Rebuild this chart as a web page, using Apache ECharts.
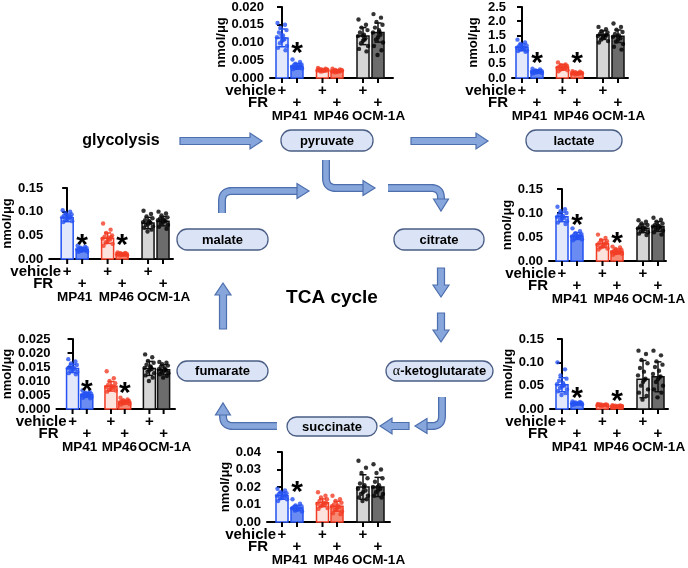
<!DOCTYPE html>
<html><head><meta charset="utf-8">
<script src="https://cdn.jsdelivr.net/npm/echarts@6/dist/echarts.min.js"></script>
<style>html,body{margin:0;padding:0;background:#fff}#chart{width:688px;height:568px}</style>
</head><body><div id="chart"></div>
<script>
// ---------- DATA ----------
const groupNames = ['MP41', 'MP46', 'OCM-1A'];
const rowNames = ['vehicle', 'FR'];
const yAxisName = 'nmol/μg';

// bar order: MP41 vehicle, MP41 FR, MP46 vehicle, MP46 FR, OCM-1A vehicle, OCM-1A FR
const pyruvateTicks = [0, 0.005, 0.010, 0.015, 0.020];
const pyruvateMean = [0.0113, 0.0033, 0.0022, 0.0020, 0.0118, 0.0128];
const pyruvateSD = [0.0025, 0.0008, 0.0003, 0.0003, 0.0024, 0.0027];
const pyruvateStars = [[1, 0.0085]];
const pyruvateDots = [
  [0.0155, 0.0150, 0.0142, 0.0135, 0.0128, 0.0120, 0.0115, 0.0110, 0.0105, 0.0098, 0.0090, 0.0085, 0.0078, 0.0120, 0.0108],
  [0.0052, 0.0045, 0.0040, 0.0038, 0.0036, 0.0034, 0.0032, 0.0031, 0.0030, 0.0028, 0.0027, 0.0025, 0.0035, 0.0029],
  [0.0028, 0.0026, 0.0025, 0.0024, 0.0023, 0.0022, 0.0021, 0.0020, 0.0019, 0.0018, 0.0022, 0.0024],
  [0.0026, 0.0024, 0.0023, 0.0022, 0.0021, 0.0020, 0.0019, 0.0018, 0.0017, 0.0016, 0.0021, 0.0019],
  [0.0165, 0.0150, 0.0142, 0.0135, 0.0128, 0.0122, 0.0118, 0.0112, 0.0105, 0.0098, 0.0090, 0.0082, 0.0075, 0.0120, 0.0108],
  [0.0180, 0.0170, 0.0158, 0.0150, 0.0142, 0.0135, 0.0128, 0.0122, 0.0115, 0.0108, 0.0100, 0.0090, 0.0078, 0.0065, 0.0130]
];

const lactateTicks = [0, 0.5, 1.0, 1.5, 2.0, 2.5];
const lactateMean = [1.08, 0.24, 0.38, 0.17, 1.51, 1.47];
const lactateSD = [0.12, 0.05, 0.10, 0.03, 0.15, 0.22];
const lactateStars = [[1, 0.70], [3, 0.70]];
const lactateDots = [
  [1.35, 1.25, 1.20, 1.15, 1.12, 1.10, 1.07, 1.05, 1.02, 1.00, 0.97, 0.95, 0.92, 1.08, 1.03],
  [0.33, 0.30, 0.27, 0.25, 0.24, 0.23, 0.22, 0.21, 0.20, 0.19, 0.18, 0.16, 0.22, 0.24],
  [0.55, 0.48, 0.45, 0.42, 0.40, 0.38, 0.36, 0.34, 0.32, 0.30, 0.27, 0.24, 0.39],
  [0.24, 0.22, 0.20, 0.19, 0.18, 0.17, 0.16, 0.15, 0.14, 0.13, 0.17, 0.18],
  [1.80, 1.72, 1.65, 1.60, 1.55, 1.50, 1.48, 1.45, 1.40, 1.35, 1.30, 1.25, 1.52, 1.44],
  [1.92, 1.80, 1.70, 1.62, 1.55, 1.50, 1.45, 1.40, 1.35, 1.28, 1.20, 1.10, 1.00, 1.48]
];

const malateTicks = [0, 0.05, 0.10, 0.15];
const malateMean = [0.087, 0.020, 0.044, 0.010, 0.076, 0.080];
const malateSD = [0.008, 0.004, 0.011, 0.002, 0.012, 0.010];
const malateStars = [[1, 0.040], [3, 0.040]];
const malateDots = [
  [0.103, 0.100, 0.097, 0.094, 0.092, 0.090, 0.088, 0.086, 0.084, 0.082, 0.080, 0.078, 0.089, 0.091],
  [0.028, 0.026, 0.024, 0.023, 0.022, 0.021, 0.020, 0.019, 0.018, 0.017, 0.016, 0.015, 0.020, 0.022],
  [0.075, 0.062, 0.055, 0.050, 0.047, 0.045, 0.043, 0.041, 0.038, 0.035, 0.032, 0.028, 0.046],
  [0.014, 0.013, 0.012, 0.011, 0.011, 0.010, 0.010, 0.009, 0.009, 0.008, 0.008, 0.010],
  [0.102, 0.095, 0.090, 0.086, 0.082, 0.080, 0.078, 0.076, 0.074, 0.072, 0.069, 0.066, 0.062, 0.058, 0.079],
  [0.100, 0.096, 0.092, 0.088, 0.085, 0.083, 0.082, 0.080, 0.078, 0.075, 0.072, 0.068, 0.064, 0.084]
];

const citrateTicks = [0, 0.05, 0.10, 0.15];
const citrateMean = [0.092, 0.052, 0.036, 0.020, 0.068, 0.072];
const citrateSD = [0.010, 0.007, 0.008, 0.005, 0.009, 0.010];
const citrateStars = [[1, 0.085], [3, 0.048]];
const citrateDots = [
  [0.113, 0.108, 0.104, 0.100, 0.097, 0.094, 0.092, 0.090, 0.088, 0.086, 0.083, 0.080, 0.077, 0.093],
  [0.068, 0.062, 0.058, 0.056, 0.054, 0.052, 0.051, 0.050, 0.049, 0.047, 0.045, 0.043, 0.053],
  [0.055, 0.048, 0.044, 0.041, 0.038, 0.036, 0.034, 0.032, 0.030, 0.028, 0.026, 0.024, 0.037],
  [0.030, 0.028, 0.025, 0.023, 0.021, 0.020, 0.019, 0.018, 0.017, 0.016, 0.015, 0.013, 0.020],
  [0.085, 0.082, 0.078, 0.075, 0.072, 0.070, 0.068, 0.066, 0.064, 0.062, 0.060, 0.057, 0.054, 0.069],
  [0.090, 0.086, 0.082, 0.078, 0.075, 0.073, 0.072, 0.070, 0.068, 0.066, 0.063, 0.060, 0.055, 0.074]
];

const fumarateTicks = [0, 0.005, 0.010, 0.015, 0.020, 0.025];
const fumarateMean = [0.0145, 0.0051, 0.0081, 0.0025, 0.0145, 0.0140];
const fumarateSD = [0.0015, 0.0008, 0.0017, 0.0006, 0.0025, 0.0018];
const fumarateStars = [[1, 0.0082], [3, 0.0075]];
const fumarateDots = [
  [0.0178, 0.0170, 0.0163, 0.0157, 0.0152, 0.0148, 0.0145, 0.0142, 0.0139, 0.0136, 0.0132, 0.0128, 0.0124, 0.0147],
  [0.0066, 0.0062, 0.0058, 0.0055, 0.0053, 0.0051, 0.0050, 0.0049, 0.0047, 0.0045, 0.0043, 0.0040, 0.0038, 0.0052],
  [0.0135, 0.0110, 0.0100, 0.0092, 0.0086, 0.0082, 0.0079, 0.0076, 0.0073, 0.0070, 0.0066, 0.0062, 0.0080],
  [0.0040, 0.0034, 0.0031, 0.0029, 0.0027, 0.0025, 0.0024, 0.0023, 0.0021, 0.0020, 0.0018, 0.0016, 0.0026],
  [0.0195, 0.0185, 0.0172, 0.0165, 0.0158, 0.0152, 0.0147, 0.0143, 0.0138, 0.0133, 0.0128, 0.0120, 0.0112, 0.0100, 0.0150],
  [0.0168, 0.0165, 0.0160, 0.0155, 0.0150, 0.0146, 0.0142, 0.0139, 0.0136, 0.0132, 0.0128, 0.0124, 0.0118, 0.0112, 0.0141]
];

const akgTicks = [0, 0.05, 0.10, 0.15];
const akgMean = [0.052, 0.012, 0.008, 0.006, 0.064, 0.069];
const akgSD = [0.015, 0.002, 0.0015, 0.001, 0.040, 0.032];
const akgStars = [[1, 0.034], [3, 0.028]];
const akgDots = [
  [0.100, 0.085, 0.072, 0.065, 0.060, 0.056, 0.053, 0.050, 0.048, 0.045, 0.042, 0.038, 0.034, 0.030, 0.052],
  [0.016, 0.015, 0.014, 0.013, 0.013, 0.012, 0.012, 0.011, 0.011, 0.010, 0.010, 0.009, 0.012],
  [0.011, 0.010, 0.0095, 0.009, 0.0085, 0.008, 0.008, 0.0075, 0.007, 0.0065, 0.006, 0.0085],
  [0.008, 0.0075, 0.007, 0.0065, 0.006, 0.006, 0.0055, 0.005, 0.005, 0.0045, 0.0062],
  [0.125, 0.118, 0.105, 0.098, 0.088, 0.080, 0.072, 0.065, 0.058, 0.050, 0.042, 0.035, 0.028, 0.020, 0.062],
  [0.125, 0.115, 0.102, 0.095, 0.090, 0.082, 0.075, 0.070, 0.064, 0.058, 0.050, 0.042, 0.035, 0.025, 0.068]
];

const succinateTicks = [0, 0.01, 0.02, 0.03, 0.04];
const succinateMean = [0.015, 0.008, 0.011, 0.009, 0.020, 0.020];
const succinateSD = [0.002, 0.0015, 0.0022, 0.0028, 0.007, 0.0055];
const succinateStars = [[1, 0.020]];
const succinateDots = [
  [0.019, 0.018, 0.017, 0.0165, 0.016, 0.0155, 0.015, 0.0145, 0.014, 0.0135, 0.013, 0.012, 0.0152],
  [0.013, 0.0105, 0.0095, 0.009, 0.0085, 0.008, 0.0078, 0.0075, 0.007, 0.0065, 0.006, 0.0082],
  [0.017, 0.015, 0.014, 0.013, 0.012, 0.011, 0.0105, 0.010, 0.0095, 0.009, 0.008, 0.0075, 0.011],
  [0.015, 0.013, 0.012, 0.011, 0.010, 0.0095, 0.009, 0.0085, 0.008, 0.007, 0.006, 0.005, 0.0045],
  [0.035, 0.031, 0.028, 0.025, 0.022, 0.020, 0.019, 0.018, 0.017, 0.016, 0.015, 0.014, 0.013, 0.012, 0.021],
  [0.033, 0.030, 0.028, 0.025, 0.023, 0.021, 0.020, 0.019, 0.018, 0.017, 0.016, 0.015, 0.014, 0.020]
];

// ---------- LAYOUT & STYLE ----------
const FONT = '"Liberation Sans", Arial, Helvetica, sans-serif';
const barSlots = [0, 15, 40.5, 55, 81, 96];          // horizontal position of each bar (px units of x axis)
const groupShift = [0, 1.5, 8];                      // label offsets (px) of group names
const jitter = [-4.5, 3, -1.5, 4.5, -3, 1, -5, 2.5, 0, -2, 5, -4, 3.5, -0.5, 1.5];
const barFill = ['#e3e8fb', '#6a8cf2', '#fde3de', '#f68a74', '#d6d6d6', '#6c6c6c'];
const barStroke = ['#2553f2', '#2553f2', '#f23d26', '#f23d26', '#111', '#111'];
const dotColor = ['#2553f2', '#2553f2', '#f23d26', '#f23d26', '#000', '#000'];
const rowOffset = [13, 25, 38];

const panels = [
  {ticks: pyruvateTicks, mean: pyruvateMean, sd: pyruvateSD, dots: pyruvateDots, stars: pyruvateStars, dec: 3, left: 270, top: 7, height: 71, padL: 12, padR: 15, nameGap: 38},
  {ticks: lactateTicks, mean: lactateMean, sd: lactateSD, dots: lactateDots, stars: lactateStars, dec: 1, left: 512, top: 7, height: 71, padL: 10, padR: 10, nameGap: 32},
  {ticks: malateTicks, mean: malateMean, sd: malateSD, dots: malateDots, stars: malateStars, dec: 2, left: 49, top: 188, height: 71, padL: 18, padR: 10, nameGap: 35},
  {ticks: citrateTicks, mean: citrateMean, sd: citrateSD, dots: citrateDots, stars: citrateStars, dec: 2, left: 549, top: 189, height: 72, padL: 13, padR: 8, nameGap: 31},
  {ticks: fumarateTicks, mean: fumarateMean, sd: fumarateSD, dots: fumarateDots, stars: fumarateStars, dec: 3, left: 50, top: 339, height: 70, padL: 17, padR: 12, nameGap: 36},
  {ticks: akgTicks, mean: akgMean, sd: akgSD, dots: akgDots, stars: akgStars, dec: 2, left: 550, top: 339, height: 70, padL: 12, padR: 10, nameGap: 32},
  {ticks: succinateTicks, mean: succinateMean, sd: succinateSD, dots: succinateDots, stars: succinateStars, dec: 2, left: 267, top: 452, height: 70, padL: 15, padR: 12, nameGap: 35}
];

const grids = [], xAxes = [], yAxes = [], series = [];
panels.forEach((p, i) => {
  const first = barSlots[0], last = barSlots[barSlots.length - 1];
  const ymin = p.ticks[0], ymax = p.ticks[p.ticks.length - 1];
  grids.push({left: p.left, top: p.top, width: p.padL + (last - first) + p.padR, height: p.height});
  xAxes.push({gridIndex: i, type: 'value', min: first - p.padL, max: last + p.padR,
    axisLine: {show: true, onZero: false, lineStyle: {color: '#000', width: 2}},
    axisTick: {show: false}, axisLabel: {show: false}, splitLine: {show: false}});
  yAxes.push({gridIndex: i, type: 'value', min: ymin, max: ymax, interval: p.ticks[1] - p.ticks[0],
    name: yAxisName, nameLocation: 'middle', nameGap: p.nameGap, nameRotate: 90,
    nameTextStyle: {fontFamily: FONT, fontWeight: 'bold', fontSize: 13, color: '#000'},
    axisLine: {show: true, lineStyle: {color: '#000', width: 2}},
    axisTick: {show: true, length: 5, lineStyle: {color: '#000', width: 2}},
    axisLabel: {fontFamily: FONT, fontWeight: 'bold', fontSize: 13, color: '#000', margin: 6,
      formatter: v => v.toFixed(p.dec)},
    splitLine: {show: false}});

  // bars + x ticks
  series.push({type: 'custom', xAxisIndex: i, yAxisIndex: i, z: 2, silent: true,
    data: p.mean.map((m, b) => [barSlots[b], m, b]),
    renderItem: (params, api) => {
      const x = api.value(0), m = api.value(1), b = api.value(2);
      const base = api.coord([x, ymin]), top = api.coord([x, m]);
      return {type: 'group', children: [
        {type: 'rect', shape: {x: base[0] - 6, y: top[1], width: 12, height: base[1] - top[1]},
          style: {fill: barFill[b], stroke: barStroke[b], lineWidth: 1.5}},
        {type: 'line', shape: {x1: base[0], y1: base[1], x2: base[0], y2: base[1] + 5},
          style: {stroke: '#000', lineWidth: 2}}
      ]};
    }});

  // dots
  const dotData = [];
  p.dots.forEach((arr, b) => arr.forEach((v, k) => {
    dotData.push({value: [barSlots[b] + jitter[k % jitter.length], v], itemStyle: {color: dotColor[b]}});
  }));
  series.push({type: 'scatter', xAxisIndex: i, yAxisIndex: i, z: 3, silent: true, clip: false,
    symbol: 'circle', symbolSize: 4.4, data: dotData});

  // error bars
  series.push({type: 'custom', xAxisIndex: i, yAxisIndex: i, z: 4, silent: true,
    data: p.mean.map((m, b) => [barSlots[b], m, p.sd[b], b]),
    renderItem: (params, api) => {
      const x = api.value(0), m = api.value(1), s = api.value(2), b = api.value(3);
      const hi = api.coord([x, m + s]), lo = api.coord([x, Math.max(ymin, m - s)]);
      const c = barStroke[b];
      return {type: 'group', children: [
        {type: 'line', shape: {x1: hi[0], y1: hi[1], x2: lo[0], y2: lo[1]}, style: {stroke: c, lineWidth: 1.5}},
        {type: 'line', shape: {x1: hi[0] - 3.5, y1: hi[1], x2: hi[0] + 3.5, y2: hi[1]}, style: {stroke: c, lineWidth: 1.5}},
        {type: 'line', shape: {x1: lo[0] - 3.5, y1: lo[1], x2: lo[0] + 3.5, y2: lo[1]}, style: {stroke: c, lineWidth: 1.5}}
      ]};
    }});

  // significance stars
  series.push({type: 'custom', xAxisIndex: i, yAxisIndex: i, z: 5, silent: true,
    data: p.stars.map(s => [barSlots[s[0]], s[1]]),
    renderItem: (params, api) => {
      const pt = api.coord([api.value(0), api.value(1)]);
      return {type: 'text', x: pt[0], y: pt[1] + 6,
        style: {text: '*', font: 'bold 30px ' + FONT, fill: '#000', align: 'center', verticalAlign: 'middle'}};
    }});

  // x labels: plus signs, row headers, group names
  const labTexts = [], labData = [], labKind = [], labShift = [];
  barSlots.forEach((x, b) => { labTexts.push('+'); labData.push([x, b % 2]); labKind.push('plus'); labShift.push(0); });
  groupNames.forEach((g, k) => { labTexts.push(g); labData.push([(barSlots[2 * k] + barSlots[2 * k + 1]) / 2, 2]); labKind.push('group'); labShift.push(groupShift[k]); });
  rowNames.forEach((r, k) => { labTexts.push(r); labData.push([barSlots[0], k]); labKind.push('head'); labShift.push(k === 0 ? -6 : -14); });
  series.push({type: 'custom', xAxisIndex: i, yAxisIndex: i, z: 5, silent: true,
    data: labData,
    renderItem: (params, api) => {
      const idx = params.dataIndex, row = api.value(1);
      const pt = api.coord([api.value(0), ymin]);
      const kind = labKind[idx];
      const align = kind === 'head' ? 'right' : 'center';
      const size = kind === 'group' ? 13.5 : 15;
      return {type: 'text', x: pt[0] + labShift[idx], y: pt[1] + rowOffset[row],
        style: {text: labTexts[idx], font: 'bold ' + size + 'px ' + FONT, fill: '#000', align: align, verticalAlign: 'middle'}};
    }});
});

// ---------- PATHWAY DIAGRAM (decoration) ----------
const ARROW_FILL = '#86a6dc', ARROW_STROKE = '#4e6fae';
const BOX_FILL = '#dbe4f6', BOX_STROKE = '#4a5d84';
function blockArrow(x1, y1, x2, y2) {
  const h = 3.5, H = 8, L = 12;
  const len = Math.hypot(x2 - x1, y2 - y1), dx = (x2 - x1) / len, dy = (y2 - y1) / len;
  const nx = -dy, ny = dx, bx = x2 - dx * L, by = y2 - dy * L;
  return {type: 'polygon', z: 10, shape: {points: [
    [x1 + nx * h, y1 + ny * h], [bx + nx * h, by + ny * h], [bx + nx * H, by + ny * H], [x2, y2],
    [bx - nx * H, by - ny * H], [bx - nx * h, by - ny * h], [x1 - nx * h, y1 - ny * h]]},
    style: {fill: ARROW_FILL, stroke: ARROW_STROKE, lineWidth: 1.2}};
}
function elbowPoints(s, c, e, r) {
  const d1 = Math.hypot(c[0] - s[0], c[1] - s[1]), d2 = Math.hypot(e[0] - c[0], e[1] - c[1]);
  const a = [c[0] + (s[0] - c[0]) * r / d1, c[1] + (s[1] - c[1]) * r / d1];
  const b = [c[0] + (e[0] - c[0]) * r / d2, c[1] + (e[1] - c[1]) * r / d2];
  const pts = [s];
  for (let k = 0; k <= 10; k++) {
    const t = k / 10, u = 1 - t;
    pts.push([u * u * a[0] + 2 * u * t * c[0] + t * t * b[0], u * u * a[1] + 2 * u * t * c[1] + t * t * b[1]]);
  }
  pts.push(e);
  return pts;
}
function curvedArrow(s, c, e, tip) {
  const pts = elbowPoints(s, c, e, 10);
  const bx = e[0], by = e[1], tx = tip[0], ty = tip[1];
  const len = Math.hypot(tx - bx, ty - by), nx = -(ty - by) / len, ny = (tx - bx) / len, H = 7.5;
  return [
    {type: 'polyline', z: 10, shape: {points: pts}, style: {fill: null, stroke: ARROW_STROKE, lineWidth: 8}},
    {type: 'polyline', z: 11, shape: {points: pts}, style: {fill: null, stroke: ARROW_FILL, lineWidth: 5.4}},
    {type: 'polygon', z: 12, shape: {points: [[bx + nx * H, by + ny * H], [tx, ty], [bx - nx * H, by - ny * H]]},
      style: {fill: ARROW_FILL, stroke: ARROW_STROKE, lineWidth: 1.2}}
  ];
}
function box(x, y, w, h, label) {
  return [
    {type: 'rect', z: 10, shape: {x: x, y: y, width: w, height: h, r: 10},
      style: {fill: BOX_FILL, stroke: BOX_STROKE, lineWidth: 1.3}},
    {type: 'text', z: 11, x: x + w / 2, y: y + h / 2 + 0.5,
      style: label.rich ? {text: label.text, rich: label.rich, align: 'center', verticalAlign: 'middle'}
        : {text: label, font: 'bold 13px ' + FONT, fill: '#000', align: 'center', verticalAlign: 'middle'}}
  ];
}
const elements = [].concat(
  box(281, 130, 92, 21, 'pyruvate'),
  box(526, 130, 96, 21, 'lactate'),
  box(177, 229, 91, 21, 'malate'),
  box(394, 229, 90, 21, 'citrate'),
  box(177, 361, 91, 20, 'fumarate'),
  box(386, 361, 107, 20, {text: '{a|α}{b|-ketoglutarate}', rich: {
    a: {font: '14px "Liberation Serif", "Times New Roman", serif', fill: '#000'},
    b: {font: 'bold 13px ' + FONT, fill: '#000'}}}),
  box(287, 417, 90, 19, 'succinate'),
  [
    blockArrow(180, 141, 262, 141),
    blockArrow(411, 141, 488, 141),
    blockArrow(441, 268, 441, 297),
    blockArrow(441, 313, 441, 342),
    blockArrow(223, 329, 223, 283),
    blockArrow(409, 426, 380, 426)
  ],
  curvedArrow([326, 160], [326, 188], [363, 188], [375, 188]),
  curvedArrow([388, 188], [441, 188], [441, 199], [441, 211]),
  curvedArrow([222, 213], [222, 191], [297, 191], [309, 191]),
  curvedArrow([442, 397], [442, 426], [427, 426], [415, 426]),
  curvedArrow([277, 426], [223, 426], [223, 415], [223, 403]),
  [
    {type: 'text', z: 10, x: 121, y: 141, style: {text: 'glycolysis', font: 'bold 16px ' + FONT, fill: '#000', align: 'center', verticalAlign: 'middle'}},
    {type: 'text', z: 10, x: 332, y: 298, style: {text: 'TCA cycle', font: 'bold 19px ' + FONT, fill: '#000', align: 'center', verticalAlign: 'middle'}}
  ]
);

const chart = echarts.init(document.getElementById('chart'), null, {renderer: 'canvas'});
chart.setOption({
  animation: false,
  backgroundColor: '#fff',
  grid: grids, xAxis: xAxes, yAxis: yAxes, series: series,
  graphic: {elements: elements}
});
</script></body></html>
